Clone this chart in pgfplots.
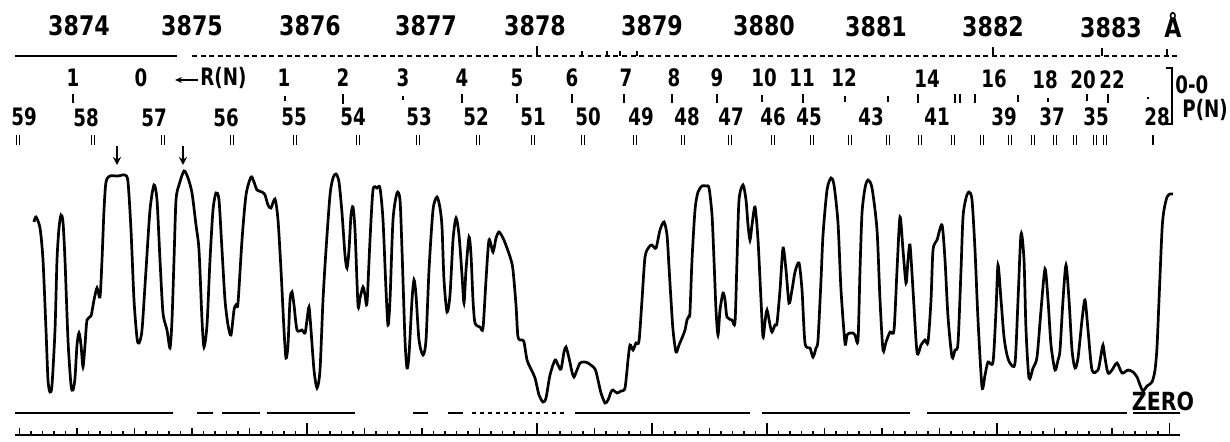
\documentclass[border=0pt]{standalone}
\usepackage{fontspec}
\usepackage{pgfplots}
\pgfplotsset{compat=1.18}
\usetikzlibrary{arrows.meta}
\newfontfamily\wfont{DejaVu Sans Bold}[FakeStretch=0.82]
\newfontfamily\nfont{DejaVu Sans Bold}[FakeStretch=0.76]
\tikzset{
  wl/.style={font=\wfont\fontsize{13.5}{16}\selectfont, inner sep=0pt, anchor=center},
  nl/.style={font=\nfont\fontsize{12}{14}\selectfont, inner sep=0pt, anchor=center},
}
\begin{document}
\begin{tikzpicture}
\begin{axis}[at={(0,0)}, anchor=south west, scale only axis, width=615pt, height=220.5pt,
  xmin=0, xmax=1230, ymin=0, ymax=441, y dir=reverse, hide axis, clip=false,
  unbounded coords=jump]
% spectrum trace
\addplot[black, line width=1.35pt, smooth, tension=0.45] coordinates {
(34,222) (36,217) (40,228) (43,260) (46,330) (48,380) (50,392) (52,385) (55,330) (57,260) (59,228) (61,215) (63,222) (65,260) (68,340) (71,385) (73,390) (75,378) (77,345) (79,333) (81,345) (83,367) (85,345) (87,320) (91,316) (94,300) (97,288) (100,297) (102,260) (104,210) (106,182) (110,176) (118,176) (125,175) (128,182) (131,230) (134,300) (137,338) (139,343) (142,330) (146,270) (150,210) (154,185) (157,200) (160,260) (163,313) (167,330) (170,348) (172,320) (174,260) (176,200) (179,185) (184,171) (188,178) (192,193) (196,225) (199,250) (202,320) (204,347) (207,325) (210,260) (213,210) (216,193) (219,200) (222,250) (225,300) (228,325) (231,335) (234,310) (236,305) (238,303) (242,240) (246,195) (251,177) (254,182) (257,190) (262,192) (265,195) (268,205) (271,208) (275,199) (278,220) (281,270) (284,330) (286,358) (288,345) (290,300) (292,292) (294,305) (297,330) (302,330) (305,333) (307,320) (309,307) (311,330) (314,370) (317,388) (320,370) (323,300) (326,250) (330,195) (333,178) (336,174) (339,182) (342,213) (345,255) (347,268) (349,250) (351,215) (353,207) (355,230) (358,305) (360,298) (363,287) (365,295) (367,303) (370,240) (373,190) (377,188) (380,188) (383,220) (386,290) (388,325) (390,300) (393,220) (397,193) (400,200) (402,250) (405,340) (407,368) (409,355) (412,300) (414,280) (416,295) (419,340) (423,355) (426,340) (429,270) (433,210) (437,197) (440,208) (442,227) (444,280) (447,312) (450,295) (453,240) (456,218) (459,235) (462,275) (464,303) (466,270) (469,237) (471,255) (473,300) (475,323) (480,327) (483,328) (486,280) (489,240) (493,252) (496,238) (499,232) (503,238) (507,248) (511,260) (513,270) (516,305) (518,337) (522,340) (524,342) (527,360) (530,367) (535,378) (539,395) (543,402) (546,398) (550,375) (555,360) (558,365) (561,369) (564,352) (566,347) (569,358) (572,372) (574,377) (577,370) (580,363) (584,362) (588,363) (595,369) (598,380) (601,393) (605,403) (608,400) (611,392) (613,390) (617,393) (621,391) (625,388) (628,360) (630,345) (633,350) (636,343) (639,341) (642,300) (645,257) (649,247) (652,245) (656,248) (660,230) (664,222) (667,235) (669,267) (671,300) (673,330) (676,352) (679,345) (682,338) (685,330) (687,320) (689,316) (690,312) (692,260) (695,210) (698,192) (702,186) (706,186) (709,188) (712,215) (714,260) (716,310) (718,335) (720,310) (723,293) (725,300) (727,317) (732,320) (735,322) (737,260) (739,200) (743,185) (746,200) (748,225) (750,240) (752,225) (755,207) (758,240) (761,300) (763,337) (765,322) (767,310) (770,325) (772,332) (775,325) (777,323) (780,290) (783,248) (786,270) (789,303) (792,290) (795,272) (799,263) (802,290) (805,343) (810,348) (813,357) (816,348) (818,340) (821,280) (823,235) (827,190) (831,178) (834,185) (838,223) (841,290) (845,343) (847,335) (850,333) (853,333) (855,335) (858,340) (860,270) (862,213) (865,188) (868,180) (872,188) (877,230) (880,300) (883,350) (886,342) (890,332) (894,330) (897,270) (900,217) (903,250) (906,283) (908,260) (910,245) (913,290) (917,352) (921,345) (925,340) (928,342) (931,300) (933,250) (937,240) (942,225) (945,260) (948,317) (952,357) (955,350) (958,343) (961,270) (963,217) (966,198) (969,192) (972,200) (975,250) (978,320) (982,387) (985,375) (988,362) (993,362) (996,310) (998,265) (1001,300) (1004,337) (1007,355) (1010,363) (1015,363) (1018,300) (1021,234) (1024,260) (1026,330) (1029,378) (1033,368) (1037,357) (1041,310) (1045,269) (1048,300) (1051,345) (1055,370) (1058,360) (1060,350) (1063,300) (1066,265) (1069,300) (1072,350) (1075,368) (1078,358) (1082,320) (1085,300) (1088,330) (1092,370) (1098,370) (1101,355) (1103,345) (1105,358) (1108,373) (1112,370) (1117,363) (1122,373) (1128,370) (1133,372) (1137,377) (1140,385) (1143,391) (1147,386) (1152,382) (1155,370) (1157,347) (1159,300) (1162,230) (1164,210) (1167,197) (1170,194) (1173,194)
};
% top dashed scale line
\addplot[black, line width=0.8pt] coordinates {(15,56) (177,56)};
\addplot[black, line width=0.8pt, dash pattern=on 2.5pt off 1.8pt] coordinates {(192,56) (1178,56)};
\addplot[black, line width=0.6pt] coordinates {
(537,56)(537,46) (nan,nan) (582,56)(582,51) (nan,nan) (607,56)(607,51) (nan,nan) (620,56)(620,51) (nan,nan) (637,56)(637,51) (nan,nan)
(993,56)(993,47) (nan,nan) (1102,56)(1102,48) (nan,nan) (1167,56)(1167,49)};
% R-branch tick marks
\addplot[black, line width=0.7pt] coordinates {
(73,94)(73,103) (nan,nan) (285,96)(285,101) (nan,nan) (343,94)(343,104) (nan,nan) (403,96)(403,100) (nan,nan)
(462,94)(462,103) (nan,nan) (517,94)(517,103) (nan,nan) (572,94)(572,103) (nan,nan) (624,94)(624,103) (nan,nan)
(672,94)(672,103) (nan,nan) (717,94)(717,103) (nan,nan) (762,95)(762,102) (nan,nan) (803,94)(803,103) (nan,nan)
(845,96)(845,102) (nan,nan) (888,96)(888,102) (nan,nan) (918,94)(918,103) (nan,nan) (955,94)(955,103) (nan,nan)
(960,94)(960,103) (nan,nan) (975,94)(975,103) (nan,nan) (1018,95)(1018,102) (nan,nan) (1048,98)(1048,102) (nan,nan)
(1087,94)(1087,101) (nan,nan) (1108,94)(1108,103) (nan,nan) (1148,97)(1148,99)};
% P-branch double tick marks
\addplot[black, line width=0.7pt] coordinates {
(16.5,135)(16.5,145) (nan,nan) (19.5,135)(19.5,145) (nan,nan) (91.5,135)(91.5,145) (nan,nan) (94.5,135)(94.5,145) (nan,nan)
(161.5,135)(161.5,145) (nan,nan) (164.5,135)(164.5,145) (nan,nan) (230.5,135)(230.5,145) (nan,nan) (233.5,135)(233.5,145) (nan,nan)
(293.5,135)(293.5,145) (nan,nan) (296.5,135)(296.5,145) (nan,nan) (356.5,135)(356.5,145) (nan,nan) (359.5,135)(359.5,145) (nan,nan)
(416.5,135)(416.5,145) (nan,nan) (419.5,135)(419.5,145) (nan,nan) (476.5,135)(476.5,145) (nan,nan) (479.5,135)(479.5,145) (nan,nan)
(531.5,135)(531.5,145) (nan,nan) (534.5,135)(534.5,145) (nan,nan) (581.5,135)(581.5,145) (nan,nan) (584.5,135)(584.5,145) (nan,nan)
(633.5,135)(633.5,145) (nan,nan) (636.5,135)(636.5,145) (nan,nan) (681.5,135)(681.5,145) (nan,nan) (684.5,135)(684.5,145) (nan,nan)
(728.5,135)(728.5,145) (nan,nan) (731.5,135)(731.5,145) (nan,nan) (771.5,135)(771.5,145) (nan,nan) (774.5,135)(774.5,145) (nan,nan)
(810.5,135)(810.5,145) (nan,nan) (813.5,135)(813.5,145) (nan,nan) (848.5,135)(848.5,145) (nan,nan) (851.5,135)(851.5,145) (nan,nan)
(886.5,135)(886.5,145) (nan,nan) (889.5,135)(889.5,145) (nan,nan) (918.5,135)(918.5,145) (nan,nan) (921.5,135)(921.5,145) (nan,nan)
(951.5,135)(951.5,145) (nan,nan) (954.5,135)(954.5,145) (nan,nan) (980.5,135)(980.5,145) (nan,nan) (983.5,135)(983.5,145) (nan,nan)
(1008.5,135)(1008.5,145) (nan,nan) (1011.5,135)(1011.5,145) (nan,nan) (1031.5,135)(1031.5,145) (nan,nan) (1034.5,135)(1034.5,145) (nan,nan)
(1053.5,135)(1053.5,145) (nan,nan) (1056.5,135)(1056.5,145) (nan,nan) (1073.5,135)(1073.5,145) (nan,nan) (1076.5,135)(1076.5,145) (nan,nan)
(1093.5,135)(1093.5,145) (nan,nan) (1096.5,135)(1096.5,145) (nan,nan) (1103.5,135)(1103.5,145) (nan,nan) (1106.5,135)(1106.5,145) (nan,nan)
(1153,135)(1153,145)};
% zero line
\addplot[black, line width=0.8pt] coordinates {
(15,413)(173,413) (nan,nan) (197,413)(213,413) (nan,nan) (222,413)(260,413) (nan,nan) (267,413)(355,413) (nan,nan)
(413,413)(428,413) (nan,nan) (448,413)(463,413) (nan,nan) (575,413)(750,413) (nan,nan) (762,413)(910,413) (nan,nan)
(927,413)(1127,413) (nan,nan) (1133,413)(1180,413)};
\addplot[black, line width=0.8pt, dash pattern=on 2pt off 2pt] coordinates {(472,413)(567,413)};
% arrows
\draw[line width=1pt, -{Stealth[length=4pt,width=4pt]}] (axis cs:117,146) -- (axis cs:117,165);
\draw[line width=1pt, -{Stealth[length=4pt,width=4pt]}] (axis cs:183,146) -- (axis cs:183,165);
\draw[line width=0.9pt, -{Stealth[length=3.5pt,width=3pt]}] (axis cs:198,80) -- (axis cs:175,80);
% bracket
\draw[line width=0.9pt] (axis cs:1166,68) -- (axis cs:1172,68) -- (axis cs:1172,124) -- (axis cs:1166,124);
% wavelength labels
\node[wl] at (axis cs:79,26) {3874};
\node[wl] at (axis cs:192,26) {3875};
\node[wl] at (axis cs:310,26) {3876};
\node[wl] at (axis cs:426,26) {3877};
\node[wl] at (axis cs:535,26) {3878};
\node[wl] at (axis cs:652,26) {3879};
\node[wl] at (axis cs:764,26) {3880};
\node[wl] at (axis cs:876,27) {3881};
\node[wl] at (axis cs:993,27) {3882};
\node[wl] at (axis cs:1111,28) {3883};
\node[wl, anchor=base] at (axis cs:1173,38) {Å};
% R(N) labels
\node[nl] at (axis cs:73,78) {1};
\node[nl] at (axis cs:141,78) {0};
\node[nl, anchor=west] at (axis cs:200,78) {R(N)};
\node[nl] at (axis cs:284,78) {1};
\node[nl] at (axis cs:343,78) {2};
\node[nl] at (axis cs:403,78) {3};
\node[nl] at (axis cs:462,78) {4};
\node[nl] at (axis cs:517,78) {5};
\node[nl] at (axis cs:572,78) {6};
\node[nl] at (axis cs:626,78) {7};
\node[nl] at (axis cs:674,78) {8};
\node[nl] at (axis cs:717,78) {9};
\node[nl] at (axis cs:764,78) {10};
\node[nl] at (axis cs:802,78) {11};
\node[nl] at (axis cs:844,78) {12};
\node[nl] at (axis cs:927,79) {14};
\node[nl] at (axis cs:994,79) {16};
\node[nl] at (axis cs:1045,80) {18};
\node[nl] at (axis cs:1083,80) {20};
\node[nl] at (axis cs:1112,80) {22};
\node[nl, anchor=west] at (axis cs:1175,85) {0-0};
% P(N) labels
\node[nl] at (axis cs:24,117) {59};
\node[nl] at (axis cs:86,118) {58};
\node[nl] at (axis cs:154,118) {57};
\node[nl] at (axis cs:226,118) {56};
\node[nl] at (axis cs:294,117) {55};
\node[nl] at (axis cs:353,117) {54};
\node[nl] at (axis cs:419,117) {53};
\node[nl] at (axis cs:476,117) {52};
\node[nl] at (axis cs:533,117) {51};
\node[nl] at (axis cs:588,117) {50};
\node[nl] at (axis cs:641,117) {49};
\node[nl] at (axis cs:687,117) {48};
\node[nl] at (axis cs:731,117) {47};
\node[nl] at (axis cs:773,117) {46};
\node[nl] at (axis cs:809,117) {45};
\node[nl] at (axis cs:871,117) {43};
\node[nl] at (axis cs:937,117) {41};
\node[nl] at (axis cs:1004,117) {39};
\node[nl] at (axis cs:1052,117) {37};
\node[nl] at (axis cs:1096,117) {35};
\node[nl] at (axis cs:1157,117) {28};
\node[nl, anchor=west] at (axis cs:1182,110) {P(N)};
\node[wl, font=\wfont\fontsize{12.5}{15}\selectfont] at (axis cs:1163,401) {ZERO};
\end{axis}
% bottom ruler
\begin{axis}[at={(7.5pt,3pt)}, anchor=south west, scale only axis, width=582.5pt, height=10pt,
  xmin=15, xmax=1180, ymin=0, ymax=1, axis x line*=bottom, axis y line=none,
  xtick={19.5,77,...,1169.5}, minor x tick num=4, xticklabel=\empty,
  xtick align=inside, major tick length=3.5pt, minor tick length=2pt,
  every tick/.style={black, line width=0.6pt}, x axis line style={black, line width=0.6pt},
  extra x ticks={307,537,652,767,997,1169.5}, extra x tick labels={},
  extra x tick style={major tick length=6pt}]
\addplot[draw=none] coordinates {(15,0) (1180,1)};
\end{axis}
\pgfresetboundingbox
\useasboundingbox (0,0) rectangle (615pt,220.5pt);
\end{tikzpicture}
\end{document}
